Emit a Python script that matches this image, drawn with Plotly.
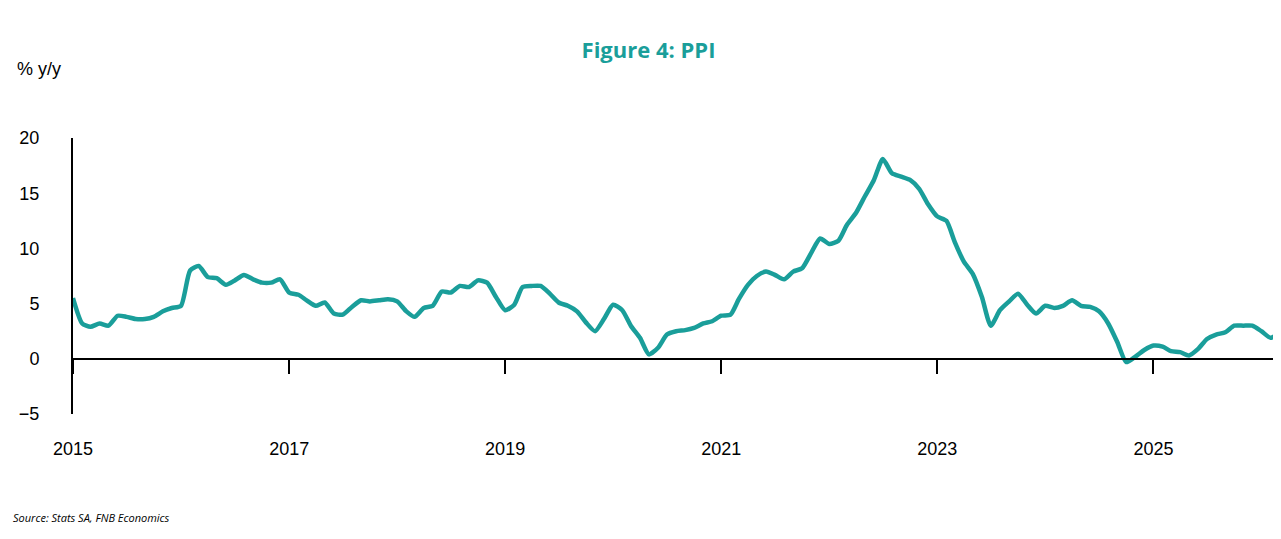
import pandas as pd
import plotly.graph_objects as go

# PPI % y/y, monthly from Jan 2015
ppi = [
    5.5, 3.2, 2.9, 3.2, 3.0, 3.9, 3.8, 3.6, 3.6, 3.8, 4.3, 4.6,
    4.8, 8.0, 8.4, 7.4, 7.3, 6.7, 7.1, 7.6, 7.2, 6.9, 6.9, 7.2,
    6.0, 5.8, 5.3, 4.8, 5.1, 4.1, 4.0, 4.7, 5.3, 5.2, 5.3, 5.4,
    5.2, 4.3, 3.8, 4.6, 4.8, 6.1, 6.0, 6.6, 6.5, 7.1, 6.9, 5.6,
    4.4, 4.9, 6.5, 6.6, 6.6, 5.9, 5.1, 4.8, 4.3, 3.3, 2.5, 3.6,
    4.9, 4.4, 3.0, 1.9, 0.4, 1.0, 2.2, 2.5, 2.6, 2.8, 3.2, 3.4,
    3.9, 4.0, 5.4, 6.7, 7.5, 7.9, 7.6, 7.2, 7.9, 8.2, 9.6, 10.9,
    10.4, 10.7, 12.1, 13.2, 14.7, 16.2, 18.1, 16.8, 16.5, 16.2, 15.4, 14.0,
    12.9, 12.5, 10.6, 8.8, 7.7, 5.6, 3.0, 4.4, 5.2, 5.9, 4.9, 4.1,
    4.8, 4.6, 4.8, 5.3, 4.8, 4.7, 4.3, 3.2, 1.5, -0.3, 0.2, 0.8,
    1.2, 1.1, 0.7, 0.6, 0.3, 0.9, 1.8, 2.2, 2.4, 3.0, 3.0, 3.0,
    2.5, 1.9, 2.3,
]
dates = pd.date_range("2015-01-01", periods=len(ppi), freq="MS")
tick_years = ["2015", "2017", "2019", "2021", "2023", "2025"]

teal = "#1a9e9a"
x_range = ["2015-01-01", "2026-03-15"]

fig = go.Figure()
fig.add_trace(go.Scatter(
    x=dates, y=ppi, mode="lines",
    line=dict(color=teal, width=4.5, shape="spline", smoothing=0.6),
    showlegend=False, hoverinfo="x+y",
))
# dummy trace so the zero-line axis exists
fig.add_trace(go.Scatter(x=dates[:1], y=[None], xaxis="x2", showlegend=False))

fig.update_layout(
    width=1281, height=539,
    paper_bgcolor="white", plot_bgcolor="white",
    margin=dict(l=65, r=6, t=130, b=133),
    font=dict(family="Liberation Sans, Arial", size=18, color="black"),
    title=dict(text="<b>Figure 4: PPI</b>", x=0.5, xanchor="center", y=0.935,
               yref="container", font=dict(family="Open Sans", size=22, color=teal)),
    xaxis=dict(
        type="date", range=x_range, showgrid=False, showline=False, zeroline=False,
        tickvals=[f"{y}-01-01" for y in tick_years], ticktext=tick_years,
        ticks="", ticklabelstandoff=22, automargin=False,
    ),
    xaxis2=dict(
        type="date", range=x_range, overlaying="x", anchor="free", position=0.2,
        showgrid=False, showline=True, linecolor="black", linewidth=2,
        tickvals=[f"{y}-01-01" for y in tick_years], showticklabels=False,
        ticks="outside", ticklen=14, tickwidth=2, tickcolor="black", automargin=False,
    ),
    yaxis=dict(
        range=[-5, 20], dtick=5, showgrid=False, zeroline=False,
        showline=True, linecolor="black", linewidth=2, ticks="",
        ticklabelstandoff=28, automargin=False,
    ),
)
fig.update_layout(title_y=0.935)
fig.add_annotation(text="% y/y", xref="paper", yref="paper", x=-0.048, y=1.25,
                   xanchor="left", yanchor="middle", showarrow=False,
                   font=dict(size=18))
fig.add_annotation(text="<i>Source: Stats SA, FNB Economics</i>", xref="paper", yref="paper",
                   x=-0.051, y=-0.375, xanchor="left", yanchor="middle", showarrow=False,
                   font=dict(family="Open Sans", size=11))

fig.write_html("out.html")
